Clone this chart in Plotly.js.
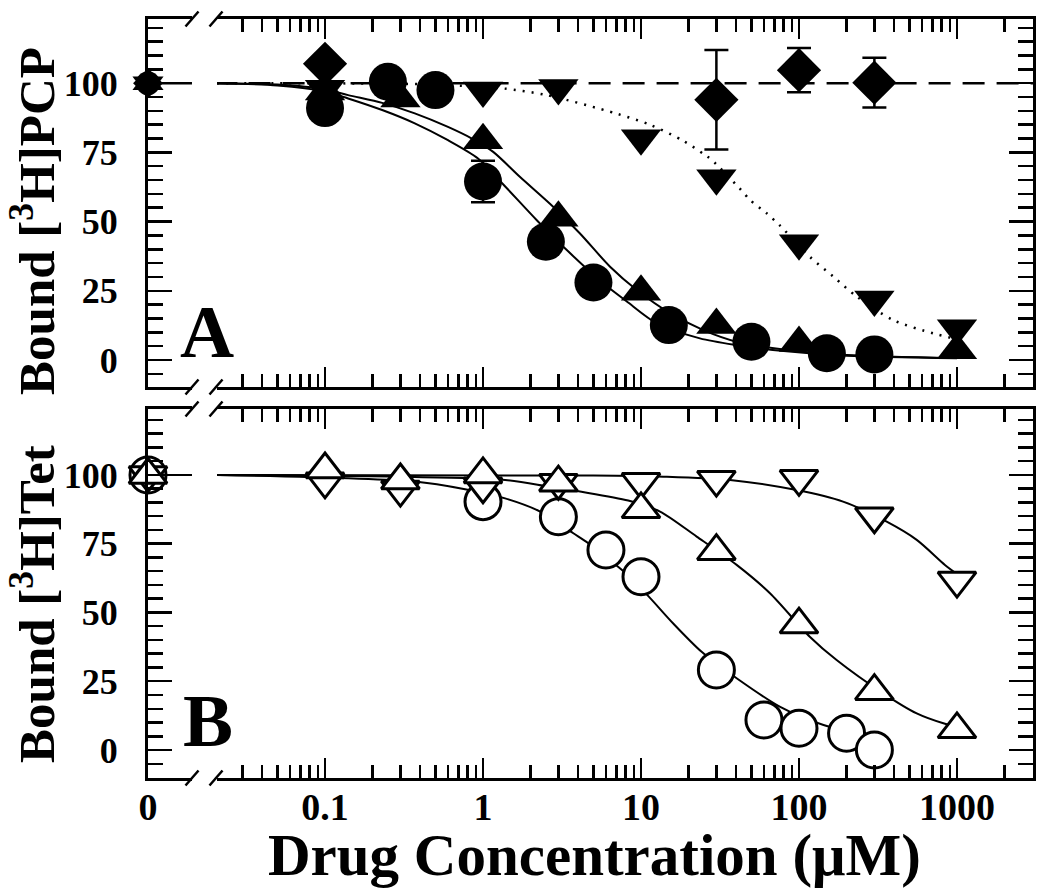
<!DOCTYPE html>
<html><head><meta charset="utf-8">
<script src="https://cdn.plot.ly/plotly-3.0.1.min.js"></script>
<style>body{margin:0;background:#fff}</style>
</head><body>
<div id="chart" style="width:1050px;height:895px"></div>
<script>
// ---------- data ----------
// value at zero concentration (all series)
const zeroConc = [0];
const zeroBound = [100];
const zeroSpanX = [0, 1];
const zeroSpanY = [100, 100];
const refLineX = [0.02, 4000];
const refLineY = [100, 100];

// Panel A : [3H]PCP
const aCircX = [0.1, 0.25, 0.5, 1, 2.5, 5, 15, 50, 150, 300];
const aCircY = [91, 100.5, 97.5, 64.5, 42.7, 28, 12.6, 6.6, 2.4, 2];
const aCircErr = [0, 0, 0, 7.5, 0, 0, 0, 0, 0, 0];
const aUpX = [0.1, 0.3, 1, 3, 10, 30, 100, 1000];
const aUpY = [97, 94.5, 79.4, 51.4, 24.6, 12.6, 6.1, 3.5];
const aDownX = [0.1, 1, 3, 10, 30, 100, 300, 1000];
const aDownY = [98, 97.4, 98.3, 80.1, 65.7, 42.2, 21.8, 11.5];
const aDiaX = [0.1, 30, 100, 300];
const aDiaY = [107, 94, 104.7, 100.2];
const aDiaErr = [0, 18, 8, 9];

const aCircFitX = [0.0207, 0.05, 0.1, 0.14, 0.23, 0.37, 0.6, 0.93, 1.34, 2.19, 3.39, 5.77, 8.1, 12.6, 23.6, 40, 80, 200, 1000];
const aCircFitY = [100, 99.2, 97, 94.5, 90.3, 85.5, 79.4, 72.8, 63.5, 50.5, 39.7, 27.7, 21.2, 13.2, 7.8, 5.4, 3.2, 1.5, 0.6];
const aUpFitX = [0.0207, 0.05, 0.1, 0.14, 0.23, 0.37, 0.6, 0.85, 1.16, 1.71, 2.79, 4.11, 6.37, 9.4, 15.3, 24.8, 40.3, 80, 200, 1000];
const aUpFitY = [100, 99.5, 97.8, 95.7, 92.9, 89.1, 84.2, 80.0, 75.2, 66.2, 55.3, 45.7, 33.7, 25.3, 16.9, 10.8, 6.6, 3.8, 1.8, 0.7];
const aDownFitX = [0.0207, 0.3, 0.6, 1.34, 2.53, 7.0, 11.4, 18.5, 24.8, 28, 42.4, 49, 62.4, 75.9, 117, 165, 232, 395, 708, 1000];
const aDownFitY = [100, 99.8, 99.3, 98.1, 95.7, 89, 85, 79.2, 74.5, 72.3, 61.8, 57.8, 53, 48.5, 37.3, 30.1, 22.9, 14.4, 9.6, 7.5];

// Panel B : [3H]Tet
const bCircX = [1, 3, 6, 10, 30, 60, 100, 200, 300];
const bCircY = [90.3, 84.8, 72.7, 63, 29.1, 10.9, 7.9, 6.1, 0];
const bUpX = [0.1, 0.3, 1, 3, 10, 30, 100, 300, 1000];
const bUpY = [102, 98, 100.2, 97.2, 87.5, 72.3, 45.6, 21.4, 7.5];
const bDownX = [0.1, 0.3, 1, 3, 10, 30, 100, 300, 1000];
const bDownY = [97.7, 94.7, 95.9, 97.2, 97.5, 98.3, 98.6, 85, 61.6];

const bCircFitX = [0.0207, 0.37, 0.77, 1.38, 2.3, 3.73, 4.64, 7.55, 10.9, 16, 24.2, 40.3, 76, 143, 232, 300];
const bCircFitY = [100, 97.6, 94.8, 91.5, 86.7, 78.8, 75.2, 65.5, 56.5, 46, 35.7, 26.1, 15.7, 9.1, 6.1, 5.2];
const bUpFitX = [0.0207, 1.38, 2.59, 4.2, 8.3, 13.2, 22.5, 40.3, 65.5, 117, 173, 341, 556, 820, 1000];
const bUpFitY = [100, 98.2, 95.8, 93.9, 90.7, 86.7, 77.6, 67.3, 57, 41.2, 32.7, 20.6, 13.3, 9.7, 8.5];
const bDownFitX = [0.0207, 5, 13.8, 36.6, 96.6, 190, 359, 556, 839, 1000];
const bDownFitY = [100, 99.8, 99.4, 98.2, 94.5, 90.3, 83, 76.4, 67.3, 64];

// tick labels
const yTickVals = [0, 25, 50, 75, 100];
const yTickText = ['0', '25', '50', '75', '100'];
const xTickVals = [0.1, 1, 10, 100, 1000];
const xTickText = ['0.1', '1', '10', '100', '1000'];
const zeroTickText = ['0'];

// ---------- styling / layout ----------
const FONT = 'Liberation Serif, "Times New Roman", Times, serif';
const K = '#000';
const yMinor = [];
for (let v = -5; v <= 120; v += 5) if (v % 25 !== 0) yMinor.push(v);
const xMinor = [];
for (let e = -2; e <= 3; e++) for (let m = 2; m <= 9; m++) xMinor.push(m * Math.pow(10, e));

const LOGR = [-1.6835, 3.4811];
const RA = [-9.76, 123.2];
const RB = [-10.18, 124];
const domA = [0.5152, 1];
const domB = [0, 0.4862];
const dZero = [0, 0.0497];
const dLog = [0.078, 1];

function yAx(domain, range, anchor, extra) {
  return Object.assign({
    domain: domain, range: range, anchor: anchor,
    tickmode: 'array', tickvals: yTickVals, ticktext: yTickText,
    ticks: 'inside', ticklen: 24, tickwidth: 2.5, tickcolor: K,
    minor: {tickmode: 'array', tickvals: yMinor, ticks: 'inside', ticklen: 15, tickwidth: 2.5, tickcolor: K, showgrid: false},
    showline: true, linewidth: 3, linecolor: K,
    showgrid: false, zeroline: false,
    tickfont: {family: FONT, size: 36, color: K, weight: 'bold'},
    ticklabelstandoff: 20, fixedrange: true
  }, extra || {});
}
function xZero(anchor, labels) {
  return {
    domain: dZero, range: [0, 1], anchor: anchor,
    tickmode: 'array', tickvals: zeroConc, ticktext: zeroTickText,
    ticks: '', showticklabels: labels,
    showline: true, mirror: true, linewidth: 3, linecolor: K,
    showgrid: false, zeroline: false,
    tickfont: {family: FONT, size: 38, color: K, weight: 'bold'},
    ticklabelstandoff: -7, fixedrange: true
  };
}
function xLog(anchor, labels) {
  return {
    domain: dLog, type: 'log', range: LOGR, anchor: anchor,
    tickmode: 'array', tickvals: xTickVals, ticktext: xTickText,
    ticks: 'inside', ticklen: 20, tickwidth: 2.5, tickcolor: K,
    minor: {tickmode: 'array', tickvals: xMinor, ticks: 'inside', ticklen: 13, tickwidth: 2.5, tickcolor: K, showgrid: false},
    showticklabels: labels,
    showline: true, mirror: 'ticks', linewidth: 3, linecolor: K,
    showgrid: false, zeroline: false,
    tickfont: {family: FONT, size: 38, color: K, weight: 'bold'},
    ticklabelstandoff: -7, fixedrange: true
  };
}

function line(x, y, xa, ya, dash, w) {
  return {x: x, y: y, xaxis: xa, yaxis: ya, mode: 'lines', type: 'scatter',
    line: {color: K, width: w || 2, dash: dash || 'solid', shape: 'spline', smoothing: 0.8},
    hoverinfo: 'skip', showlegend: false};
}
function filled(x, y, xa, ya, sym, size, err) {
  const t = {x: x, y: y, xaxis: xa, yaxis: ya, mode: 'markers', type: 'scatter', cliponaxis: false,
    marker: {symbol: sym, size: size, color: K, line: {width: 0}}, hoverinfo: 'skip', showlegend: false};
  if (err) t.error_y = {type: 'data', array: err, visible: true, color: K, thickness: 2.5, width: 12};
  return t;
}
function open(x, y, xa, ya, sym, size) {
  return {x: x, y: y, xaxis: xa, yaxis: ya, mode: 'markers', type: 'scatter', cliponaxis: false,
    marker: {symbol: sym, size: size, color: '#fff', line: {width: 3, color: K}}, hoverinfo: 'skip', showlegend: false};
}

const traces = [
  // panel A, zero section
  line(zeroSpanX, zeroSpanY, 'x', 'y', 'solid', 2.5),
  // panel A, log section
  line(refLineX, refLineY, 'x2', 'y', '22px,12px', 2.5),
  line(aDownFitX, aDownFitY, 'x2', 'y', '2px,7px', 2.5),
  line(aUpFitX, aUpFitY, 'x2', 'y', 'solid', 2),
  line(aCircFitX, aCircFitY, 'x2', 'y', 'solid', 2),
  filled(aDownX, aDownY, 'x2', 'y', 'triangle-down', 35),
  filled(aUpX, aUpY, 'x2', 'y', 'triangle-up', 35),
  filled(aCircX, aCircY, 'x2', 'y', 'circle', 38, aCircErr),
  filled(aDiaX, aDiaY, 'x2', 'y', 'diamond', 34, aDiaErr),
  filled(zeroConc, zeroBound, 'x', 'y', 'diamond', 23),
  filled(zeroConc, zeroBound, 'x', 'y', 'circle', 24),
  filled(zeroConc, zeroBound, 'x', 'y', 'triangle-down', 27),
  filled(zeroConc, zeroBound, 'x', 'y', 'triangle-up', 27),
  {x: [], y: [], xaxis: 'x2', yaxis: 'y3', type: 'scatter', mode: 'markers', showlegend: false},
  // panel B, zero section
  line(zeroSpanX, zeroSpanY, 'x3', 'y2', 'solid', 2),
  // panel B, log section
  line(bDownFitX, bDownFitY, 'x4', 'y2', 'solid', 2),
  line(bUpFitX, bUpFitY, 'x4', 'y2', 'solid', 2),
  line(bCircFitX, bCircFitY, 'x4', 'y2', 'solid', 2),
  open(bCircX, bCircY, 'x4', 'y2', 'circle', 36),
  open(bDownX, bDownY, 'x4', 'y2', 'triangle-down', 33),
  open(bUpX, bUpY, 'x4', 'y2', 'triangle-up', 33),
  open(zeroConc, zeroBound, 'x3', 'y2', 'circle', 36),
  open(zeroConc, zeroBound, 'x3', 'y2', 'triangle-down', 33),
  open(zeroConc, zeroBound, 'x3', 'y2', 'triangle-up', 33),
  {x: [], y: [], xaxis: 'x4', yaxis: 'y4', type: 'scatter', mode: 'markers', showlegend: false}
];

// break marks on the x axes
const W = 1050, H = 895, ML = 148, MR = 17, MT = 19, MB = 117;
const PW = W - ML - MR, PH = H - MT - MB;
const px = v => (v - ML) / PW;
const py = v => (H - MB - v) / PH;
const shapes = [];
[19, 387, 409, 778].forEach(yy => {
  [192, 216].forEach(xx => {
    shapes.push({type: 'line', xref: 'paper', yref: 'paper',
      x0: px(xx - 6.5), y0: py(yy + 7.5), x1: px(xx + 6.5), y1: py(yy - 7.5),
      line: {color: K, width: 2.5}});
  });
});

const ann = (text, x, y, size, extra) => Object.assign({
  text: text, xref: 'paper', yref: 'paper', x: x, y: y, showarrow: false,
  xanchor: 'center', yanchor: 'middle',
  font: {family: FONT, size: size, color: K, weight: 'bold'}
}, extra || {});

const layout = {
  width: W, height: H,
  margin: {l: ML, r: MR, t: MT, b: MB, pad: 0},
  paper_bgcolor: '#fff', plot_bgcolor: 'rgba(0,0,0,0)',
  showlegend: false,
  xaxis: xZero('y', false),
  xaxis2: xLog('y', false),
  xaxis3: xZero('y2', true),
  xaxis4: xLog('y2', true),
  yaxis: yAx(domA, RA, 'x'),
  yaxis3: yAx(domA, RA, 'x2', {overlaying: 'y', side: 'right', showticklabels: false}),
  yaxis2: yAx(domB, RB, 'x3'),
  yaxis4: yAx(domB, RB, 'x4', {overlaying: 'y2', side: 'right', showticklabels: false}),
  shapes: shapes,
  annotations: [
    ann('Drug Concentration (μM)', px(594), py(855), 59),
    ann('Bound [<sup>3</sup>H]PCP', px(33), py(221), 51, {textangle: -90}),
    ann('Bound [<sup>3</sup>H]Tet', px(33), py(604), 51, {textangle: -90}),
    ann('A', px(206.5), py(331.5), 75),
    ann('B', px(207.5), py(720), 75)
  ]
};

Plotly.newPlot('chart', traces, layout, {displayModeBar: false, staticPlot: true});
</script>
</body></html>
